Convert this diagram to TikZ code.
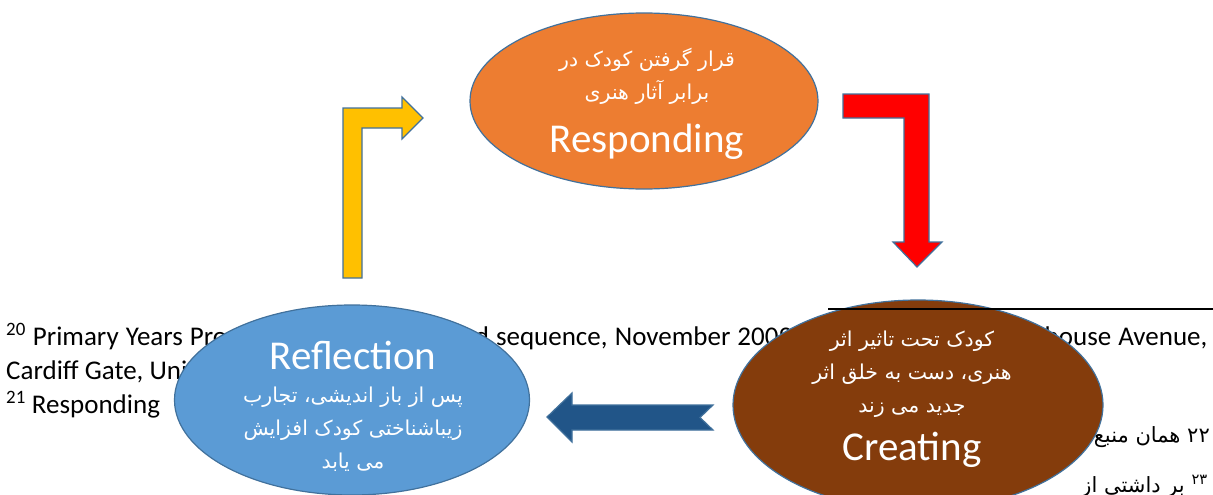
\documentclass[tikz,border=0pt]{standalone}
\usepackage{fontspec}
\setmainfont{Carlito}
\newfontfamily\arabicfont[Script=Arabic]{DejaVu Sans}
\TeXXeTstate=1
\usetikzlibrary{shapes.geometric}

\definecolor{outline}{RGB}{65,113,156}
\definecolor{orangefill}{RGB}{237,125,49}
\definecolor{bluefill}{RGB}{91,155,213}
\definecolor{brownfill}{RGB}{132,60,12}
\definecolor{navyfill}{RGB}{33,85,136}
\definecolor{goldfill}{RGB}{255,192,0}

\newcommand{\fa}[1]{\beginR #1\endR}
\newcommand{\ovaltitle}[1]{{\rmfamily\fontsize{41}{41}\selectfont #1}}

\begin{document}
\begin{tikzpicture}[x=1pt, y=-1pt,
        oval/.style={ellipse, draw=outline, line width=1.2pt, inner sep=0pt},
        ovaltext/.style={text=white, align=center, inner sep=0pt,
                         font=\arabicfont\fontsize{20.5}{33}\selectfont},
        blockarrow/.style={draw=outline, line width=1.2pt, line join=miter},
        foot/.style={anchor=base west, inner sep=0pt, font=\fontsize{27}{34}\selectfont},
        pfoot/.style={anchor=base east, inner sep=0pt,
                      font=\arabicfont\fontsize{21}{26}\selectfont}
    ]
    \useasboundingbox (0,0) rectangle (1213,495);
    \clip (0,0) rectangle (1213,495);
    \fill[white] (0,0) rectangle (1213,495);

    % footnotes behind the shapes
    \node[foot] (fn20) at (6,345)
        {\makebox[1201pt][s]{\textsuperscript{20} Primary Years Programme Arts scope and sequence, November 2009, Peterson House, Malthouse Avenue,}};
    \node[foot] (fn20b) at (6,379) {Cardiff Gate, United Kingdom};
    \node[foot] (fn21) at (6,413) {\textsuperscript{21} Responding};
    \node[pfoot] (fn22) at (1210,442) {\fa{۲۲ همان منبع ص}};
    \node[pfoot] (fn23) at (1208,492) {\fa{\textsuperscript{۲۳} بر داشتی از}};

    % the three stages
    \node[oval, fill=orangefill, minimum width=348pt, minimum height=176pt] (responding) at (644,101) {};
    \node[oval, fill=bluefill, minimum width=355pt, minimum height=190pt] (reflection) at (352,400) {};
    \node[oval, fill=brownfill, minimum width=370pt, minimum height=210pt] (creating) at (918,405) {};
    \draw[line width=1.3pt] (828,309) coordinate (rule) -- (1213,309);

    \node[ovaltext] (respondingtext) at (647,104)
        {\fa{قرار گرفتن کودک در}\\ \fa{برابر آثار هنری}\\[19pt] \ovaltitle{Responding}};
    \node[ovaltext] (creatingtext) at (912,399)
        {\fa{کودک تحت تاثیر اثر}\\ \fa{هنری، دست به خلق اثر}\\ \fa{جدید می زند}\\[14pt] \ovaltitle{Creating}};
    \node[ovaltext] (reflectiontext) at (353,406)
        {\ovaltitle{Reflection}\\ \fa{پس از باز اندیشی، تجارب}\\ \fa{زیباشناختی کودک افزایش}\\ \fa{می یابد}};

    % block arrows
    \draw[blockarrow, fill=goldfill] (343,278) -- (343,108) -- (402,108) -- (402,97) -- (423,118)
        -- (402,139) -- (402,128) -- (362,128) -- (362,278) -- cycle;
    \draw[blockarrow, fill=red] (843,94) -- (929,94) -- (929,242) -- (942,242) -- (917,267)
        -- (893,242) -- (904,242) -- (904,118) -- (843,118) -- cycle;
    \draw[blockarrow, fill=navyfill] (713,405) -- (572,405) -- (572,393) -- (547,417)
        -- (572,442) -- (572,430) -- (713,430) -- (700,417.5) -- cycle;
\end{tikzpicture}
\end{document}
